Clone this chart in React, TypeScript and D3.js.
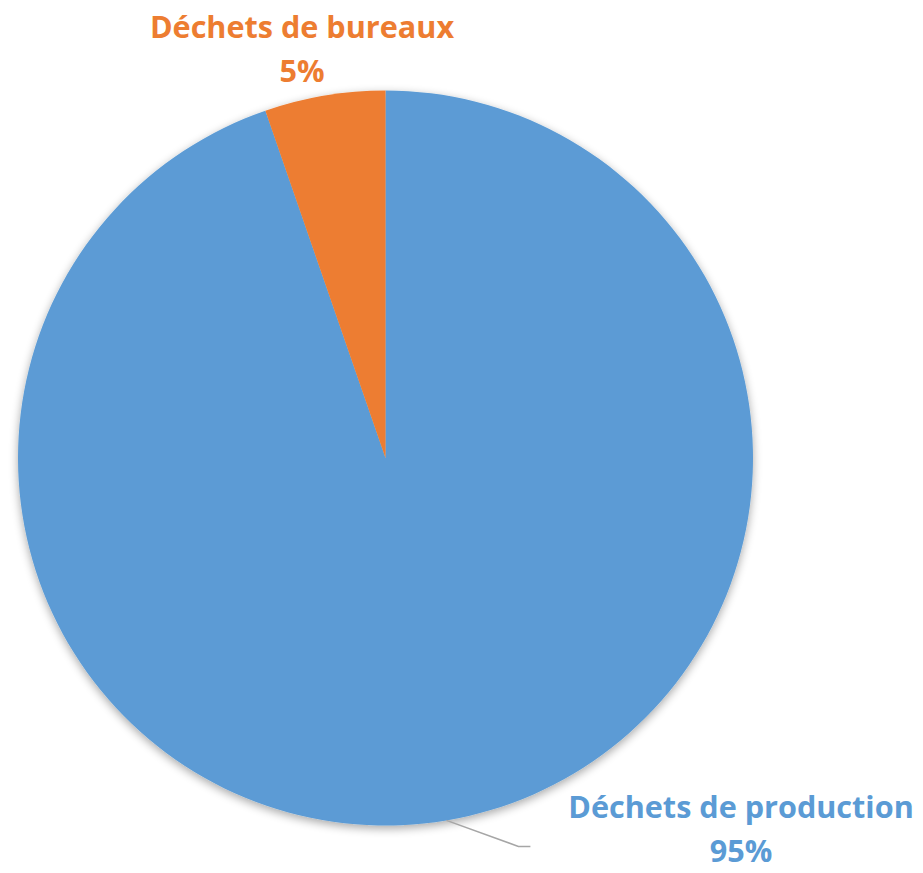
import React from 'react'
import * as d3 from 'd3'

const categories = ['Déchets de production', 'Déchets de bureaux']
const values = [94.7, 5.3]
const percentLabels = ['95%', '5%']
const colors = ['#5B9BD5', '#ED7D31']

const W = 923
const H = 873
const CX = 385.5
const CY = 458
const R = 367.5

export default function App() {
  const data = categories.map((c, i) => ({ name: c, value: values[i], pct: percentLabels[i], color: colors[i] }))

  const pie = d3.pie<any>().value(d => d.value).sort(null)
  const arcs = pie(data)
  const arc = d3.arc<any>().innerRadius(0).outerRadius(R)

  // leader line start for production slice, at its mid angle on the rim
  const prod = arcs[0]
  const mid = (prod.startAngle + prod.endAngle) / 2
  const sx = CX + R * Math.sin(mid)
  const sy = CY - R * Math.cos(mid)
  const lineD = `M${sx},${sy} L${sx + 72},${sy + 26} L${sx + 84},${sy + 26}`

  const font = '"Open Sans", "DejaVu Sans", sans-serif'

  return (
    <svg width={W} height={H} style={{ position: 'absolute', left: 0, top: 0, background: '#fff' }}>
      <defs>
        <filter id="shadow" x="-10%" y="-10%" width="120%" height="120%">
          <feGaussianBlur in="SourceAlpha" stdDeviation="5" />
          <feOffset dx="0" dy="3" result="b" />
          <feComponentTransfer><feFuncA type="linear" slope="0.35" /></feComponentTransfer>
          <feMerge><feMergeNode /><feMergeNode in="SourceGraphic" /></feMerge>
        </filter>
      </defs>
      <g transform={`translate(${CX},${CY})`} filter="url(#shadow)">
        {arcs.map((a, i) => (
          <path key={i} d={arc(a) || ''} fill={a.data.color} />
        ))}
      </g>
      <path d={lineD} fill="none" stroke="#A6A6A6" strokeWidth={1.5} />
      <g fontFamily={font} fontWeight={700} fontSize={30.6} textAnchor="middle">
        <text x={302} y={38} fill={colors[1]}>{categories[1]}</text>
        <text x={302} y={82} fill={colors[1]}>{percentLabels[1]}</text>
        <text x={741} y={818} fill={colors[0]}>{categories[0]}</text>
        <text x={741} y={862} fill={colors[0]}>{percentLabels[0]}</text>
      </g>
    </svg>
  )
}
